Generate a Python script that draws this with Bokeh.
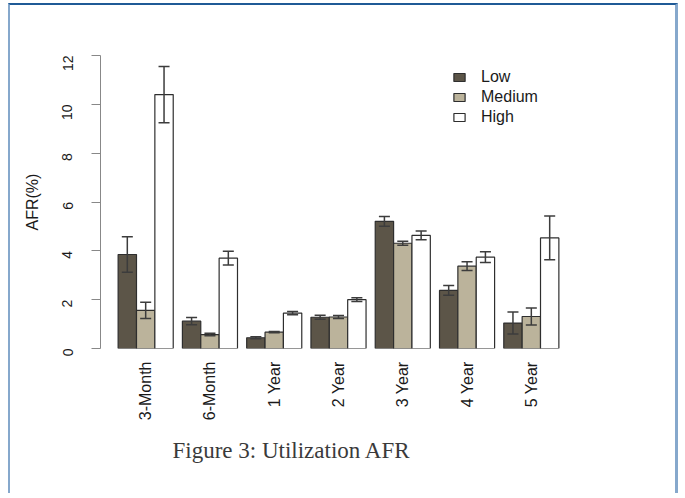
import math
from bokeh.plotting import figure
from bokeh.models import (ColumnDataSource, Range1d, FixedTicker, Legend, LegendItem, Title)
from bokeh.embed import file_html
from bokeh.resources import INLINE

categories = ["3-Month", "6-Month", "1 Year", "2 Year", "3 Year", "4 Year", "5 Year"]
series = ["Low", "Medium", "High"]
low = [3.85, 1.12, 0.44, 1.28, 5.21, 2.38, 1.04]
low_err = [0.73, 0.15, 0.04, 0.08, 0.20, 0.20, 0.45]
medium = [1.56, 0.57, 0.67, 1.29, 4.31, 3.37, 1.31]
medium_err = [0.33, 0.05, 0.03, 0.06, 0.08, 0.18, 0.35]
high = [10.4, 3.70, 1.45, 2.00, 4.63, 3.74, 4.53]
high_err = [1.15, 0.28, 0.07, 0.08, 0.18, 0.22, 0.90]
y_ticks = [0, 2, 4, 6, 8, 10, 12]

colors = ["#5c5548", "#bbb39b", "#ffffff"]
values = [low, medium, high]
errors = [low_err, medium_err, high_err]

# R barplot style geometry: bar width 1, space 0.5 between groups
centers = [2.0 + 3.5 * i for i in range(len(categories))]

p = figure(width=670, height=490, output_backend="svg", toolbar_location=None,
           x_range=Range1d(-0.46, 25.46), y_range=Range1d(0, 12),
           min_border_left=90, min_border_top=50, min_border_right=104, min_border_bottom=147)
p.styles = {"margin-left": "8px", "margin-top": "3px",
            "border-top": "2px solid #1f5a96", "border-left": "2px solid #86a8cc",
            "border-right": "3px solid #86a8cc"}
p.outline_line_color = None
p.xgrid.visible = False
p.ygrid.visible = False
p.background_fill_color = "white"
p.border_fill_color = "white"

renderers = []
for k, name in enumerate(series):
    xs = [c + (k - 1) for c in centers]
    src = ColumnDataSource(dict(x=xs, top=values[k],
                                lo=[v - e for v, e in zip(values[k], errors[k])],
                                hi=[v + e for v, e in zip(values[k], errors[k])],
                                cl=[x - 0.3 for x in xs], cr=[x + 0.3 for x in xs]))
    r = p.vbar(x="x", top="top", bottom=0, width=1.0, source=src,
               fill_color=colors[k], line_color="#2e2e2e", line_width=1.2)
    renderers.append(r)
    p.segment(x0="x", y0="lo", x1="x", y1="hi", source=src, line_color="#3c3c3c", line_width=1.5)
    p.segment(x0="cl", y0="lo", x1="cr", y1="lo", source=src, line_color="#3c3c3c", line_width=1.5)
    p.segment(x0="cl", y0="hi", x1="cr", y1="hi", source=src, line_color="#3c3c3c", line_width=1.5)

# y axis
ya = p.yaxis[0]
ya.ticker = FixedTicker(ticks=y_ticks)
ya.axis_label = "AFR(%)"
ya.axis_label_text_font = "Liberation Sans"
ya.axis_label_text_font_size = "16px"
ya.axis_label_text_font_style = "normal"
ya.axis_label_text_color = "#1a1a1a"
ya.axis_label_standoff = 14
ya.major_label_orientation = math.pi / 2
ya.major_label_text_font = "Liberation Sans"
ya.major_label_text_font_size = "14px"
ya.major_label_text_color = "#1a1a1a"
ya.major_label_standoff = 24
ya.major_tick_out = 9
ya.major_tick_in = 0
ya.minor_tick_line_color = None
ya.axis_line_color = "#888888"
ya.major_tick_line_color = "#888888"

# x axis (labels only)
xa = p.xaxis[0]
xa.ticker = FixedTicker(ticks=centers)
xa.major_label_overrides = {c: lab for c, lab in zip(centers, categories)}
xa.major_label_orientation = math.pi / 2
xa.major_label_text_font = "Liberation Sans"
xa.major_label_text_font_size = "16px"
xa.major_label_text_color = "#1a1a1a"
xa.major_label_standoff = 13
xa.major_tick_out = 0
xa.major_tick_in = 0
xa.axis_line_color = None
xa.major_tick_line_color = None
xa.minor_tick_line_color = None

legend = Legend(items=[LegendItem(label=n, renderers=[r]) for n, r in zip(series, renderers)],
                location=(352, 222), padding=0, margin=0, spacing=2,
                glyph_width=14, glyph_height=10, label_standoff=15,
                label_text_font="Liberation Sans", label_text_font_size="16px",
                label_text_color="#1a1a1a", border_line_color=None,
                background_fill_alpha=0)
p.add_layout(legend)

cap = Title(text="Figure 3: Utilization AFR", align="left", offset=72,
            text_font="Liberation Serif", text_font_size="23px", text_font_style="normal",
            text_color="#3a3a3a", standoff=25)
p.add_layout(cap, "below")

open("out.html", "w").write(file_html(p, INLINE))
